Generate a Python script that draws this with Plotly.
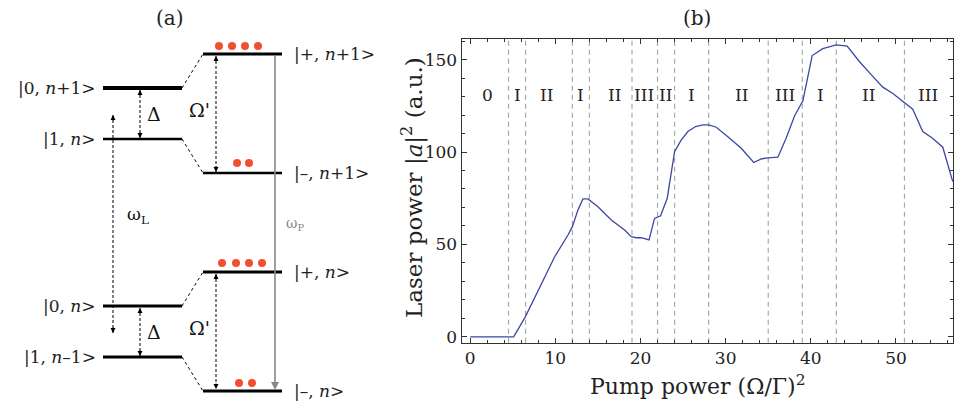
import plotly.graph_objects as go

# ---------------- Panel (b) data ----------------
pump = [0, 5.1, 6.47, 8.35, 9.92, 11.48, 12.0, 12.65, 13.24, 13.83, 15.0, 16.57,
        18.13, 18.92, 19.5, 20.09, 21.0, 21.65, 22.36, 23.14, 24.0, 24.79, 25.57,
        26.47, 27.33, 28.0, 28.9, 30.26, 31.83, 33.3, 34.18, 34.96, 36.13, 37.1,
        38.1, 39.07, 40.16, 41.41, 42.98, 44.27, 45.7, 47.28, 48.45, 49.6, 50.8,
        51.97, 53.15, 54.3, 55.5, 56.67]
laser = [0, 0, 10.8, 28.9, 43.3, 55.1, 59.6, 68.6, 74.6, 74.6, 70.4, 63.2,
         57.8, 54.2, 53.6, 53.6, 52.4, 64.1, 65.5, 75.0, 100.2, 106.6, 111.1,
         113.8, 114.7, 114.7, 113.4, 108.3, 102.0, 94.3, 96.3, 96.8, 97.2, 107.5,
         119.6, 127.7, 152.2, 155.9, 158.0, 157.3, 149.0, 140.9, 135.1, 131.8, 127.3,
         123.2, 111.1, 107.5, 102.6, 84.0]
boundaries = [4.5, 6.5, 12, 14, 19, 22, 24, 28, 35, 39, 43, 51]
region_labels = ["0", "I", "II", "I", "II", "III", "II", "I", "II", "III", "I", "II", "III"]
region_label_x = [2.0, 5.6, 8.9, 12.9, 17.0, 20.4, 22.9, 26.0, 31.9, 37.0, 41.1, 46.8, 53.8]
region_label_y = 131
x_ticks = [0, 10, 20, 30, 40, 50]
y_ticks = [0, 50, 100, 150]

# ---------------- Panel (a) data (diagram units) ----------------
bare_x = [103, 182]
dressed_x = [203, 282]
bare_y = [88, 139, 306, 357]
bare_w = [4, 2.5, 3, 3]
bare_labels = ["|0, <i>n</i>+1&gt;", "|1, <i>n</i>&gt;", "|0, <i>n</i>&gt;", "|1, <i>n</i>–1&gt;"]
dressed_y = [54, 173, 272, 391]
dressed_w = [3, 2.5, 3, 3]
dressed_labels = ["|+, <i>n</i>+1&gt;", "|–, <i>n</i>+1&gt;", "|+, <i>n</i>&gt;", "|–, <i>n</i>&gt;"]
dots_x = [[219, 232, 245, 258], [237, 249], [222, 236, 249, 262], [239, 252]]
dots_y = [46, 163, 263, 383]
delta_x = 140
omega_x = 216
wl_x = 113
wl_y = [115, 333]
wp_x = 275
wp_y = [54, 391]

serif = "DejaVu Serif"
txt = "#222"

fig = go.Figure()

# ---- panel (b) ----
fig.add_trace(go.Scatter(x=pump, y=laser, mode="lines",
                         line=dict(color="#3b48a5", width=1.3),
                         xaxis="x", yaxis="y", showlegend=False, hoverinfo="skip"))
for b in boundaries:
    fig.add_shape(type="line", xref="x", yref="y domain", x0=b, x1=b, y0=0, y1=1,
                  line=dict(color="#a8a8a8", width=1.2, dash="5px,4px"), layer="below")
for lab, lx in zip(region_labels, region_label_x):
    fig.add_annotation(x=lx, y=region_label_y, xref="x", yref="y", text=lab,
                       showarrow=False, font=dict(size=17, color=txt, family=serif))

# ---- panel (a) ----
for y, w, lab in zip(bare_y, bare_w, bare_labels):
    fig.add_trace(go.Scatter(x=bare_x, y=[y, y], mode="lines",
                             line=dict(color="black", width=w), xaxis="x2", yaxis="y2",
                             showlegend=False, hoverinfo="skip"))
    fig.add_annotation(x=bare_x[0] - 5, y=y, xref="x2", yref="y2", text=lab,
                       showarrow=False, xanchor="right",
                       font=dict(size=17, color=txt, family=serif))
for y, w, lab in zip(dressed_y, dressed_w, dressed_labels):
    fig.add_trace(go.Scatter(x=dressed_x, y=[y, y], mode="lines",
                             line=dict(color="black", width=w), xaxis="x2", yaxis="y2",
                             showlegend=False, hoverinfo="skip"))
    fig.add_annotation(x=dressed_x[1] + 10, y=y, xref="x2", yref="y2", text=lab,
                       showarrow=False, xanchor="left",
                       font=dict(size=17, color=txt, family=serif))

# dashed connectors bare -> dressed
for by, dy in zip(bare_y, dressed_y):
    fig.add_trace(go.Scatter(x=[bare_x[1], dressed_x[0]], y=[by, dy],
                             mode="lines", line=dict(color="black", width=1, dash="3px,3px"),
                             xaxis="x2", yaxis="y2", showlegend=False, hoverinfo="skip"))

# red population dots
for xs, y in zip(dots_x, dots_y):
    fig.add_trace(go.Scatter(x=xs, y=[y] * len(xs), mode="markers",
                             marker=dict(color="#f0502e", size=8, line=dict(width=0)),
                             xaxis="x2", yaxis="y2", showlegend=False, hoverinfo="skip"))


def dashed_double_arrow(x, y0, y1):
    fig.add_trace(go.Scatter(x=[x, x], y=[y0, y1], mode="lines",
                             line=dict(color="black", width=1, dash="3px,2px"),
                             xaxis="x2", yaxis="y2", showlegend=False, hoverinfo="skip"))
    for tip, tail in ((y0, y0 + 7), (y1, y1 - 7)):
        fig.add_annotation(x=x, y=tip, ax=x, ay=tail, xref="x2", yref="y2",
                           axref="x2", ayref="y2", showarrow=True, arrowhead=2,
                           arrowwidth=1, arrowsize=1, arrowcolor="black", text="")


dashed_double_arrow(delta_x, bare_y[0] + 2, bare_y[1] - 1)
dashed_double_arrow(delta_x, bare_y[2] + 2, bare_y[3] - 1)
dashed_double_arrow(omega_x, dressed_y[0] + 2, dressed_y[1] - 1)
dashed_double_arrow(omega_x, dressed_y[2] + 2, dressed_y[3] - 2)
dashed_double_arrow(wl_x, wl_y[0], wl_y[1])

for yc in [(bare_y[0] + bare_y[1]) / 2, (bare_y[2] + bare_y[3]) / 2]:
    fig.add_annotation(x=delta_x + 14, y=yc, xref="x2", yref="y2", text="Δ",
                       showarrow=False, font=dict(size=19, color="#111", family=serif))
for yc in [(dressed_y[0] + dressed_y[1]) / 2, (dressed_y[2] + dressed_y[3]) / 2]:
    fig.add_annotation(x=omega_x - 17, y=yc - 4, xref="x2", yref="y2", text="Ω'",
                       showarrow=False, font=dict(size=19, color="#111", family=serif))

fig.add_annotation(x=wl_x + 25, y=215, xref="x2", yref="y2", text="ω<sub>L</sub>",
                   showarrow=False, font=dict(size=17, color="#111", family=serif))
# pump arrow (solid gray)
fig.add_annotation(x=wp_x, y=wp_y[1] - 1, ax=wp_x, ay=wp_y[0], xref="x2", yref="y2",
                   axref="x2", ayref="y2", showarrow=True, arrowhead=2, arrowwidth=1.6,
                   arrowsize=1, arrowcolor="#888", text="")
fig.add_annotation(x=wp_x + 20, y=224, xref="x2", yref="y2", text="ω<sub>P</sub>",
                   showarrow=False, font=dict(size=14, color="#888", family=serif))

# panel labels and axis titles
fig.add_annotation(x=170, y=18, xref="x2", yref="y2", text="(a)", showarrow=False,
                   font=dict(size=20, color=txt, family=serif))
fig.add_annotation(x=697 / 954, y=1 - 18 / 402, xref="paper", yref="paper", text="(b)",
                   xanchor="center", yanchor="middle", showarrow=False,
                   font=dict(size=20, color=txt, family=serif))
fig.add_annotation(x=697 / 954, y=1 - 385 / 402, xref="paper", yref="paper",
                   xanchor="center", yanchor="middle",
                   text="Pump power (Ω/Γ)<sup>2</sup>", showarrow=False,
                   font=dict(size=22, color=txt, family=serif))
fig.add_annotation(x=412 / 954, y=1 - 188 / 402, xref="paper", yref="paper",
                   xanchor="center", yanchor="middle",
                   text="Laser power |<i>a</i>|<sup>2</sup> (a.u.)", showarrow=False,
                   textangle=-90, font=dict(size=23, color=txt, family=serif))

axis_common = dict(showgrid=False, zeroline=False, showline=True, linecolor="#333",
                   linewidth=1.3, ticks="inside", tickcolor="#333", ticklen=5,
                   tickwidth=1, mirror="allticks",
                   tickfont=dict(size=17, color=txt, family=serif))

fig.update_layout(
    width=954, height=402, autosize=False,
    margin=dict(l=0, r=0, t=0, b=0),
    paper_bgcolor="white", plot_bgcolor="white",
    xaxis=dict(domain=[461.7 / 954, 953 / 954], range=[-1.0, 56.7],
               tickvals=x_ticks, automargin=False,
               minor=dict(dtick=2, ticks="inside", ticklen=3, tickcolor="#333"),
               anchor="y", **axis_common),
    yaxis=dict(domain=[1 - 342.7 / 402, 1 - 39.3 / 402], range=[-3.2, 161],
               tickvals=y_ticks, automargin=False,
               minor=dict(dtick=10, ticks="inside", ticklen=3, tickcolor="#333"),
               anchor="x", **axis_common),
    xaxis2=dict(domain=[0, 0.45], range=[0, 0.45 * 954], visible=False, anchor="y2"),
    yaxis2=dict(domain=[0, 1], range=[402, 0], visible=False, anchor="x2"),
)

fig.write_html("out.html", config={"displayModeBar": False},
               post_script="document.body.style.margin='0';document.body.style.overflow='hidden';")
